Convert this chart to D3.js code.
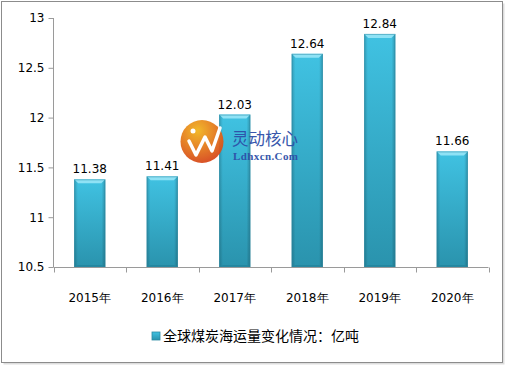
<!DOCTYPE html>
<html><head><meta charset="utf-8">
<script src="https://cdn.jsdelivr.net/npm/d3@7"></script>
<style>body{margin:0;background:#fff}svg{display:block}</style>
</head><body>
<script>
const categories = ["2015年","2016年","2017年","2018年","2019年","2020年"];
const values = [11.38, 11.41, 12.03, 12.64, 12.84, 11.66];
const yTicks = [10.5, 11, 11.5, 12, 12.5, 13];
const legendLabel = "全球煤炭海运量变化情况：亿吨";

const W = 506, H = 366;
const svg = d3.select("body").append("svg").attr("width", W).attr("height", H);
const defs = svg.append("defs");
const g1 = defs.append("linearGradient").attr("id","barV").attr("x1",0).attr("y1",0).attr("x2",0).attr("y2",1);
g1.append("stop").attr("offset","0%").attr("stop-color","#40c2e2");
g1.append("stop").attr("offset","100%").attr("stop-color","#2a93ad");
const g2 = defs.append("linearGradient").attr("id","barH").attr("x1",0).attr("y1",0).attr("x2",1).attr("y2",0);
g2.append("stop").attr("offset","0%").attr("stop-color","#000").attr("stop-opacity",0.18);
g2.append("stop").attr("offset","12%").attr("stop-color","#000").attr("stop-opacity",0);
g2.append("stop").attr("offset","88%").attr("stop-color","#000").attr("stop-opacity",0);
g2.append("stop").attr("offset","100%").attr("stop-color","#000").attr("stop-opacity",0.22);

// outer frame
svg.append("rect").attr("x",3.5).attr("y",3.5).attr("width",501).attr("height",361).attr("fill","#bbb").attr("opacity",0.5);
svg.append("rect").attr("x",1.5).attr("y",1.5).attr("width",501).attr("height",361).attr("fill","#fff").attr("stroke","#8c8c8c");

const x = d3.scaleBand().domain(categories).range([53.5, 488.5]).paddingInner(0.57).paddingOuter(0.285);
const xb = d3.scaleBand().domain(categories).range([53.5, 488.5]);
const y = d3.scaleLinear().domain([10.5, 13]).range([267, 18]);

// y axis
const yAxis = d3.axisLeft(y).tickValues(yTicks).tickSize(5).tickFormat(d3.format("~g"));
const ya = svg.append("g").attr("transform","translate(53.5,0)").call(yAxis);
ya.select(".domain").attr("stroke","#9a9a9a").attr("d","M0,18V267");
ya.selectAll(".tick line").attr("stroke","#9a9a9a");
ya.selectAll(".tick text").attr("font-family","DejaVu Sans").attr("font-size",12).attr("fill","#000").attr("x",-9);

// x axis
const xa = svg.append("g").attr("transform","translate(0,267.5)");
xa.append("line").attr("x1",53.5).attr("x2",488.5).attr("stroke","#9a9a9a");
const bounds = categories.map(c => xb(c)).concat([488.5]);
xa.selectAll("line.t").data(bounds).join("line").attr("class","t")
  .attr("x1",d=>Math.round(d)+0.5).attr("x2",d=>Math.round(d)+0.5).attr("y1",0).attr("y2",5).attr("stroke","#9a9a9a");
xa.selectAll("text").data(categories).join("text")
  .attr("x",d=>xb(d)+xb.bandwidth()/2).attr("y",34).attr("text-anchor","middle")
  .attr("font-family","DejaVu Sans").attr("font-size",12).text(d=>d);

// bars
const bars = svg.append("g");
categories.forEach((c,i) => {
  const bx = x(c), bw = x.bandwidth(), top = y(values[i]), bot = y(10.5);
  const gg = bars.append("g");
  gg.append("rect").attr("x",bx).attr("y",top).attr("width",bw).attr("height",bot-top).attr("fill","url(#barV)");
  gg.append("rect").attr("x",bx).attr("y",top).attr("width",bw).attr("height",bot-top).attr("fill","url(#barH)");
  const b = 4;
  gg.append("path").attr("d",`M${bx},${top}H${bx+bw}L${bx+bw-b},${top+b}H${bx+b}Z`).attr("fill","#8fe2f5");
  gg.append("path").attr("d",`M${bx},${bot}H${bx+bw}L${bx+bw-b},${bot-2}H${bx+b}Z`).attr("fill","#1f7f96").attr("opacity",0.6);
  gg.append("rect").attr("x",bx+0.5).attr("y",top+0.5).attr("width",bw-1).attr("height",bot-top-1).attr("fill","none").attr("stroke","#2b8aa3").attr("stroke-opacity",0.5);
  svg.append("text").attr("x",bx+bw/2).attr("y",top-6).attr("text-anchor","middle")
    .attr("font-family","DejaVu Sans").attr("font-size",12).text(values[i].toFixed(2));
});

// watermark
const wm = svg.append("g").attr("opacity",0.95);
const og = defs.append("radialGradient").attr("id","og").attr("cx","40%").attr("cy","25%").attr("r","75%");
og.append("stop").attr("offset","0%").attr("stop-color","#f2b51f");
og.append("stop").attr("offset","100%").attr("stop-color","#d84a1c");
wm.append("circle").attr("cx",202).attr("cy",141.5).attr("r",21.5).attr("fill","url(#og)");
wm.append("path").attr("d","M189,141 L196,155 L205,137 L212,151 L220,128").attr("fill","none").attr("stroke","#fff").attr("stroke-width",3.5).attr("stroke-linejoin","round").attr("stroke-linecap","round");
wm.append("circle").attr("cx",193).attr("cy",131).attr("r",2.5).attr("fill","#fff");
wm.append("text").attr("x",232).attr("y",145).attr("font-family","Noto Sans CJK SC").attr("font-size",16.5)
  .attr("textLength",66).attr("fill","#2e4fa8").text("灵动核心");
wm.append("text").attr("x",233).attr("y",160).attr("font-family","Liberation Serif").attr("font-size",11).attr("font-weight","bold")
  .attr("textLength",65).attr("fill","#2e4fa8").text("Ldhxcn.Com");

// legend
const lg = svg.append("g");
lg.append("rect").attr("x",152).attr("y",332).attr("width",8).attr("height",8).attr("fill","url(#barV)").attr("stroke","#2b8aa3").attr("stroke-width",0.8);
lg.append("text").attr("x",163).attr("y",341).attr("font-family","Noto Sans CJK SC").attr("font-size",14).text(legendLabel);
</script>
</body></html>
